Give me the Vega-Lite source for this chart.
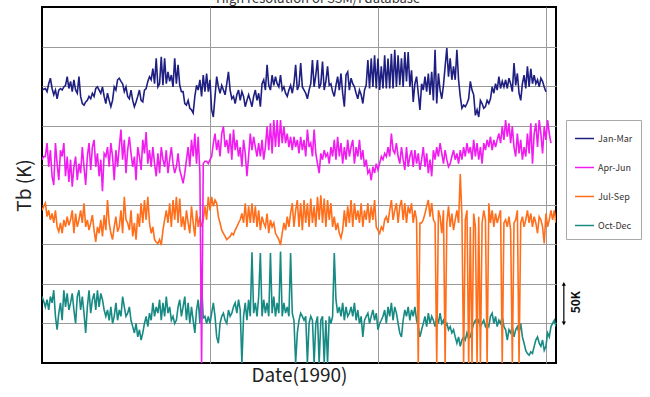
{
"$schema":"https://vega.github.io/schema/vega-lite/v6.json",
"width":514,"height":356,
"autosize":{"type":"none"},
"padding":{"left":42,"top":7,"right":94,"bottom":34},
"background":"#ffffff",
"title":{"text":"High resolution of SSM/I database","fontSize":13,"fontWeight":"normal","color":"#333","offset":1,"dx":19,"font":"Noto Sans CJK JP"},
"config":{"view":{"stroke":"#000","strokeWidth":2},
"axis":{"labels":false,"ticks":false,"domain":false,"gridColor":"#9a9a9a","gridWidth":1,"titleFont":"Noto Sans CJK JP","titleFontWeight":"normal","titleFontSize":19,"titleColor":"#222"}},
"layer":[
{"data":{"values":[
{"d":0,"A":345,"B":257,"C":193,"D":84},{"d":0.3,"A":346,"B":261,"C":198,"D":78},{"d":0.6,"A":347,"B":261,"C":202,"D":71},{"d":0.9,"A":343,"B":278,"C":185,"D":80},{"d":1.2,"A":353,"B":248,"C":193,"D":67},{"d":1.5,"A":360,"B":269,"C":181,"D":84},{"d":1.8,"A":347,"B":236,"C":189,"D":76},{"d":2.1,"A":339,"B":225,"C":177,"D":92},{"d":2.4,"A":345,"B":278,"C":193,"D":59},{"d":2.7,"A":334,"B":252,"C":172,"D":42},
{"d":3,"A":345,"B":231,"C":166,"D":63},{"d":3.3,"A":347,"B":269,"C":177,"D":76},{"d":3.6,"A":345,"B":261,"C":164,"D":54},{"d":3.9,"A":349,"B":278,"C":181,"D":92},{"d":4.2,"A":351,"B":236,"C":172,"D":71},{"d":4.5,"A":362,"B":261,"C":185,"D":88},{"d":4.8,"A":347,"B":229,"C":174,"D":67},{"d":5.1,"A":356,"B":257,"C":181,"D":76},{"d":5.4,"A":343,"B":223,"C":193,"D":88},{"d":5.7,"A":358,"B":248,"C":164,"D":67},
{"d":6,"A":345,"B":261,"C":189,"D":50},{"d":6.3,"A":341,"B":231,"C":172,"D":84},{"d":6.6,"A":362,"B":252,"C":181,"D":92},{"d":6.9,"A":337,"B":240,"C":193,"D":67},{"d":7.2,"A":328,"B":273,"C":177,"D":84},{"d":7.5,"A":326,"B":248,"C":202,"D":63},{"d":7.8,"A":330,"B":225,"C":172,"D":38},{"d":8.1,"A":332,"B":261,"C":181,"D":71},{"d":8.4,"A":337,"B":278,"C":168,"D":92},{"d":8.7,"A":334,"B":244,"C":177,"D":63},
{"d":9,"A":341,"B":273,"C":187,"D":80},{"d":9.3,"A":337,"B":282,"C":168,"D":88},{"d":9.6,"A":347,"B":248,"C":153,"D":67},{"d":9.9,"A":349,"B":265,"C":172,"D":92},{"d":10.2,"A":345,"B":236,"C":164,"D":71},{"d":10.5,"A":341,"B":257,"C":181,"D":88},{"d":10.8,"A":349,"B":217,"C":160,"D":80},{"d":11.1,"A":337,"B":265,"C":187,"D":67},{"d":11.4,"A":328,"B":261,"C":168,"D":59},{"d":11.7,"A":341,"B":273,"C":206,"D":67},
{"d":12,"A":332,"B":248,"C":177,"D":54},{"d":12.3,"A":324,"B":278,"C":164,"D":71},{"d":12.6,"A":332,"B":261,"C":156,"D":50},{"d":12.9,"A":349,"B":231,"C":172,"D":59},{"d":13.2,"A":345,"B":269,"C":185,"D":76},{"d":13.5,"A":358,"B":248,"C":166,"D":54},{"d":13.8,"A":360,"B":273,"C":172,"D":67},{"d":14.1,"A":356,"B":295,"C":193,"D":59},{"d":14.4,"A":353,"B":257,"C":164,"D":84},{"d":14.7,"A":343,"B":282,"C":210,"D":71},
{"d":15,"A":349,"B":240,"C":181,"D":59},{"d":15.3,"A":337,"B":269,"C":177,"D":63},{"d":15.6,"A":334,"B":286,"C":168,"D":71},{"d":15.9,"A":345,"B":265,"C":193,"D":54},{"d":16.2,"A":332,"B":248,"C":160,"D":46},{"d":16.5,"A":324,"B":261,"C":177,"D":38},{"d":16.8,"A":330,"B":231,"C":156,"D":50},{"d":17.1,"A":337,"B":273,"C":189,"D":33},{"d":17.4,"A":345,"B":261,"C":172,"D":42},{"d":17.7,"A":332,"B":244,"C":202,"D":29},
{"d":18,"A":330,"B":282,"C":177,"D":38},{"d":18.3,"A":345,"B":265,"C":206,"D":50},{"d":18.6,"A":347,"B":292,"C":181,"D":59},{"d":18.9,"A":356,"B":252,"C":210,"D":46},{"d":19.2,"A":362,"B":269,"C":177,"D":63},{"d":19.5,"A":358,"B":248,"C":164,"D":54},{"d":19.8,"A":372,"B":273,"C":172,"D":76},{"d":20.1,"A":353,"B":252,"C":156,"D":59},{"d":20.4,"A":385,"B":236,"C":153,"D":71},{"d":20.7,"A":349,"B":265,"C":151,"D":63},
{"d":21,"A":353,"B":240,"C":156,"D":80},{"d":21.3,"A":387,"B":273,"C":149,"D":54},{"d":21.6,"A":351,"B":257,"C":168,"D":76},{"d":21.9,"A":385,"B":248,"C":181,"D":59},{"d":22.2,"A":353,"B":269,"C":193,"D":84},{"d":22.5,"A":368,"B":240,"C":177,"D":63},{"d":22.8,"A":356,"B":257,"C":202,"D":71},{"d":23.1,"A":364,"B":273,"C":172,"D":54},{"d":23.4,"A":349,"B":252,"C":206,"D":59},{"d":23.7,"A":385,"B":240,"C":181,"D":50},
{"d":24,"A":353,"B":248,"C":210,"D":54},{"d":24.3,"A":377,"B":265,"C":177,"D":71},{"d":24.6,"A":351,"B":244,"C":208,"D":80},{"d":24.9,"A":343,"B":236,"C":172,"D":59},{"d":25.2,"A":343,"B":227,"C":185,"D":71},{"d":25.5,"A":328,"B":240,"C":168,"D":84},{"d":25.8,"A":326,"B":257,"C":193,"D":54},{"d":26.1,"A":332,"B":273,"C":177,"D":76},{"d":26.4,"A":322,"B":248,"C":164,"D":50},{"d":26.7,"A":320,"B":282,"C":198,"D":71},
{"d":27,"A":316,"B":261,"C":177,"D":54},{"d":27.3,"A":337,"B":290,"C":160,"D":38},{"d":27.6,"A":351,"B":252,"C":193,"D":67},{"d":27.9,"A":345,"B":286,"C":172,"D":80},{"d":28.2,"A":358,"B":240,"C":185,"D":50},{"d":28.5,"A":337,"B":0,"C":172,"D":101},{"d":28.8,"A":364,"B":252,"C":181,"D":57},{"d":29.1,"A":343,"B":255,"C":198,"D":59},{"d":29.4,"A":366,"B":255,"C":181,"D":50},{"d":29.7,"A":343,"B":252,"C":210,"D":59},
{"d":30,"A":358,"B":257,"C":193,"D":50},{"d":30.3,"A":320,"B":261,"C":210,"D":63},{"d":30.6,"A":311,"B":278,"C":198,"D":76},{"d":30.9,"A":337,"B":290,"C":206,"D":59},{"d":31.2,"A":362,"B":269,"C":202,"D":33},{"d":31.5,"A":349,"B":282,"C":185,"D":25},{"d":31.8,"A":341,"B":261,"C":177,"D":50},{"d":32.1,"A":351,"B":290,"C":168,"D":59},{"d":32.4,"A":345,"B":299,"C":164,"D":63},{"d":32.7,"A":339,"B":273,"C":160,"D":54},
{"d":33,"A":353,"B":282,"C":156,"D":50},{"d":33.3,"A":368,"B":265,"C":158,"D":67},{"d":33.6,"A":345,"B":290,"C":160,"D":59},{"d":33.9,"A":334,"B":257,"C":164,"D":63},{"d":34.2,"A":337,"B":295,"C":162,"D":71},{"d":34.5,"A":328,"B":269,"C":168,"D":76},{"d":34.8,"A":339,"B":282,"C":172,"D":63},{"d":35.1,"A":345,"B":261,"C":177,"D":80},{"d":35.4,"A":332,"B":273,"C":181,"D":67},{"d":35.7,"A":343,"B":248,"C":189,"D":0},
{"d":36,"A":337,"B":282,"C":177,"D":59},{"d":36.3,"A":324,"B":265,"C":202,"D":76},{"d":36.6,"A":332,"B":236,"C":172,"D":54},{"d":36.9,"A":339,"B":261,"C":198,"D":80},{"d":37.2,"A":332,"B":290,"C":177,"D":59},{"d":37.5,"A":324,"B":269,"C":202,"D":140},{"d":37.8,"A":337,"B":286,"C":177,"D":63},{"d":38.1,"A":345,"B":273,"C":198,"D":76},{"d":38.4,"A":332,"B":261,"C":172,"D":59},{"d":38.7,"A":341,"B":278,"C":193,"D":84},
{"d":39,"A":324,"B":261,"C":168,"D":139},{"d":39.3,"A":353,"B":282,"C":185,"D":59},{"d":39.6,"A":358,"B":257,"C":177,"D":80},{"d":39.9,"A":345,"B":273,"C":172,"D":63},{"d":40.2,"A":377,"B":299,"C":189,"D":76},{"d":40.5,"A":351,"B":269,"C":164,"D":59},{"d":40.8,"A":345,"B":303,"C":181,"D":139},{"d":41.1,"A":364,"B":265,"C":172,"D":63},{"d":41.4,"A":351,"B":307,"C":177,"D":84},{"d":41.7,"A":362,"B":273,"C":164,"D":59},
{"d":42,"A":353,"B":307,"C":160,"D":76},{"d":42.3,"A":349,"B":273,"C":156,"D":63},{"d":42.6,"A":364,"B":307,"C":149,"D":141},{"d":42.9,"A":345,"B":278,"C":164,"D":59},{"d":43.2,"A":349,"B":299,"C":177,"D":76},{"d":43.5,"A":341,"B":278,"C":168,"D":63},{"d":43.8,"A":337,"B":290,"C":185,"D":71},{"d":44.1,"A":345,"B":273,"C":172,"D":59},{"d":44.4,"A":351,"B":286,"C":189,"D":139},{"d":44.7,"A":341,"B":269,"C":202,"D":63},
{"d":45,"A":353,"B":286,"C":172,"D":54},{"d":45.3,"A":377,"B":273,"C":193,"D":0},{"d":45.6,"A":345,"B":282,"C":206,"D":38},{"d":45.9,"A":351,"B":265,"C":172,"D":54},{"d":46.2,"A":379,"B":286,"C":202,"D":63},{"d":46.5,"A":349,"B":269,"C":168,"D":59},{"d":46.8,"A":345,"B":282,"C":206,"D":54},{"d":47.1,"A":341,"B":261,"C":177,"D":59},{"d":47.4,"A":334,"B":295,"C":202,"D":0},{"d":47.7,"A":345,"B":273,"C":172,"D":50},
{"d":48,"A":353,"B":278,"C":208,"D":59},{"d":48.3,"A":383,"B":261,"C":177,"D":54},{"d":48.6,"A":349,"B":295,"C":198,"D":0},{"d":48.9,"A":364,"B":265,"C":172,"D":50},{"d":49.2,"A":383,"B":252,"C":210,"D":59},{"d":49.5,"A":347,"B":240,"C":181,"D":0},{"d":49.8,"A":353,"B":265,"C":212,"D":54},{"d":50.1,"A":381,"B":257,"C":177,"D":59},{"d":50.4,"A":345,"B":269,"C":208,"D":0},{"d":50.7,"A":356,"B":261,"C":172,"D":54},
{"d":51,"A":375,"B":265,"C":206,"D":0},{"d":51.3,"A":351,"B":252,"C":181,"D":59},{"d":51.6,"A":353,"B":273,"C":202,"D":50},{"d":51.9,"A":343,"B":261,"C":172,"D":59},{"d":52.2,"A":337,"B":282,"C":185,"D":139},{"d":52.5,"A":351,"B":257,"C":168,"D":80},{"d":52.8,"A":362,"B":286,"C":177,"D":63},{"d":53.1,"A":345,"B":261,"C":164,"D":71},{"d":53.4,"A":366,"B":278,"C":158,"D":59},{"d":53.7,"A":341,"B":252,"C":168,"D":76},
{"d":54,"A":324,"B":273,"C":193,"D":54},{"d":54.3,"A":364,"B":257,"C":172,"D":71},{"d":54.6,"A":368,"B":282,"C":198,"D":59},{"d":54.9,"A":345,"B":261,"C":177,"D":63},{"d":55.2,"A":360,"B":273,"C":206,"D":71},{"d":55.5,"A":353,"B":282,"C":172,"D":59},{"d":55.8,"A":349,"B":252,"C":202,"D":76},{"d":56.1,"A":341,"B":273,"C":181,"D":54},{"d":56.4,"A":334,"B":261,"C":193,"D":67},{"d":56.7,"A":345,"B":282,"C":177,"D":50},
{"d":57,"A":339,"B":257,"C":202,"D":59},{"d":57.3,"A":328,"B":269,"C":172,"D":33},{"d":57.6,"A":345,"B":248,"C":193,"D":54},{"d":57.9,"A":351,"B":257,"C":181,"D":59},{"d":58.2,"A":383,"B":240,"C":202,"D":63},{"d":58.5,"A":347,"B":244,"C":177,"D":50},{"d":58.8,"A":385,"B":231,"C":198,"D":59},{"d":59.1,"A":349,"B":248,"C":181,"D":67},{"d":59.4,"A":389,"B":240,"C":206,"D":54},{"d":59.7,"A":347,"B":252,"C":172,"D":63},
{"d":60,"A":385,"B":244,"C":168,"D":42},{"d":60.3,"A":345,"B":252,"C":164,"D":50},{"d":60.6,"A":375,"B":261,"C":172,"D":54},{"d":60.9,"A":347,"B":257,"C":168,"D":59},{"d":61.2,"A":389,"B":265,"C":181,"D":67},{"d":61.5,"A":347,"B":261,"C":185,"D":50},{"d":61.8,"A":385,"B":273,"C":177,"D":71},{"d":62.1,"A":347,"B":261,"C":193,"D":59},{"d":62.4,"A":391,"B":290,"C":206,"D":76},{"d":62.7,"A":347,"B":269,"C":181,"D":54},
{"d":63,"A":396,"B":265,"C":193,"D":71},{"d":63.3,"A":349,"B":278,"C":202,"D":63},{"d":63.6,"A":389,"B":261,"C":177,"D":50},{"d":63.9,"A":351,"B":252,"C":198,"D":38},{"d":64.2,"A":385,"B":273,"C":206,"D":33},{"d":64.5,"A":349,"B":257,"C":181,"D":54},{"d":64.8,"A":393,"B":244,"C":202,"D":67},{"d":65.1,"A":356,"B":273,"C":177,"D":59},{"d":65.4,"A":393,"B":248,"C":198,"D":71},{"d":65.7,"A":349,"B":261,"C":189,"D":54},
{"d":66,"A":370,"B":269,"C":202,"D":67},{"d":66.3,"A":330,"B":248,"C":177,"D":59},{"d":66.6,"A":353,"B":269,"C":193,"D":71},{"d":66.9,"A":362,"B":252,"C":181,"D":54},{"d":67.2,"A":341,"B":265,"C":0,"D":46},{"d":67.5,"A":320,"B":244,"C":177,"D":33},{"d":67.8,"A":353,"B":257,"C":177,"D":42},{"d":68.1,"A":345,"B":273,"C":181,"D":50},{"d":68.4,"A":362,"B":248,"C":189,"D":59},{"d":68.7,"A":343,"B":265,"C":198,"D":46},
{"d":69,"A":366,"B":240,"C":206,"D":63},{"d":69.3,"A":339,"B":257,"C":185,"D":50},{"d":69.6,"A":368,"B":236,"C":202,"D":59},{"d":69.9,"A":332,"B":269,"C":181,"D":54},{"d":70.2,"A":396,"B":257,"C":177,"D":46},{"d":70.5,"A":328,"B":273,"C":0,"D":59},{"d":70.8,"A":366,"B":261,"C":193,"D":50},{"d":71.1,"A":345,"B":278,"C":185,"D":63},{"d":71.4,"A":334,"B":265,"C":164,"D":50},{"d":71.7,"A":351,"B":252,"C":193,"D":54},
{"d":72,"A":375,"B":269,"C":0,"D":46},{"d":72.3,"A":398,"B":257,"C":177,"D":50},{"d":72.6,"A":362,"B":248,"C":198,"D":42},{"d":72.9,"A":385,"B":252,"C":172,"D":46},{"d":73.2,"A":358,"B":261,"C":189,"D":38},{"d":73.5,"A":375,"B":269,"C":168,"D":42},{"d":73.8,"A":358,"B":257,"C":181,"D":33},{"d":74.1,"A":396,"B":265,"C":193,"D":25},{"d":74.4,"A":358,"B":252,"C":177,"D":33},{"d":74.7,"A":337,"B":269,"C":239,"D":21},
{"d":75,"A":322,"B":257,"C":185,"D":29},{"d":75.3,"A":326,"B":273,"C":0,"D":33},{"d":75.6,"A":324,"B":261,"C":181,"D":29},{"d":75.9,"A":328,"B":278,"C":193,"D":38},{"d":76.2,"A":334,"B":265,"C":0,"D":31},{"d":76.5,"A":356,"B":273,"C":172,"D":33},{"d":76.8,"A":345,"B":257,"C":0,"D":42},{"d":77.1,"A":339,"B":282,"C":189,"D":50},{"d":77.4,"A":313,"B":261,"C":172,"D":54},{"d":77.7,"A":320,"B":278,"C":0,"D":50},
{"d":78,"A":311,"B":257,"C":185,"D":54},{"d":78.3,"A":332,"B":273,"C":0,"D":46},{"d":78.6,"A":328,"B":252,"C":177,"D":50},{"d":78.9,"A":322,"B":278,"C":193,"D":54},{"d":79.2,"A":324,"B":269,"C":181,"D":46},{"d":79.5,"A":332,"B":282,"C":0,"D":50},{"d":79.8,"A":328,"B":273,"C":202,"D":46},{"d":80.1,"A":334,"B":286,"C":177,"D":59},{"d":80.4,"A":349,"B":269,"C":193,"D":63},{"d":80.7,"A":341,"B":282,"C":172,"D":50},
{"d":81,"A":353,"B":273,"C":189,"D":59},{"d":81.3,"A":345,"B":282,"C":177,"D":46},{"d":81.6,"A":362,"B":290,"C":185,"D":54},{"d":81.9,"A":347,"B":278,"C":193,"D":50},{"d":82.2,"A":356,"B":299,"C":0,"D":59},{"d":82.5,"A":349,"B":282,"C":177,"D":46},{"d":82.8,"A":358,"B":307,"C":181,"D":42},{"d":83.1,"A":347,"B":286,"C":172,"D":29},{"d":83.4,"A":360,"B":303,"C":185,"D":42},{"d":83.7,"A":353,"B":278,"C":168,"D":38},
{"d":84,"A":343,"B":299,"C":0,"D":46},{"d":84.3,"A":379,"B":273,"C":177,"D":33},{"d":84.6,"A":351,"B":261,"C":181,"D":42},{"d":84.9,"A":366,"B":290,"C":193,"D":46},{"d":85.2,"A":341,"B":265,"C":0,"D":38},{"d":85.5,"A":332,"B":282,"C":177,"D":50},{"d":85.8,"A":353,"B":257,"C":185,"D":33},{"d":86.1,"A":364,"B":273,"C":172,"D":25},{"d":86.4,"A":347,"B":261,"C":181,"D":16},{"d":86.7,"A":375,"B":290,"C":193,"D":12},
{"d":87,"A":349,"B":265,"C":177,"D":10},{"d":87.3,"A":372,"B":303,"C":189,"D":14},{"d":87.6,"A":353,"B":252,"C":172,"D":12},{"d":87.9,"A":364,"B":290,"C":185,"D":21},{"d":88.2,"A":353,"B":303,"C":177,"D":29},{"d":88.5,"A":358,"B":273,"C":164,"D":33},{"d":88.8,"A":349,"B":307,"C":185,"D":25},{"d":89.1,"A":360,"B":290,"C":181,"D":21},{"d":89.4,"A":356,"B":265,"C":172,"D":29},{"d":89.7,"A":349,"B":299,"C":151,"D":16},
{"d":90,"A":343,"B":282,"C":189,"D":21},{"d":90.3,"A":null,"B":307,"C":172,"D":38},{"d":90.6,"A":null,"B":290,"C":181,"D":33},{"d":90.9,"A":null,"B":278,"C":193,"D":46},{"d":91.2,"A":null,"B":null,"C":181,"D":50},{"d":91.5,"A":null,"B":null,"C":193,"D":54},{"d":91.8,"A":null,"B":null,"C":177,"D":46}
]},
"transform":[
{"fold":["D","C","B","A"],"as":["key","tb"]},
{"lookup":"key","from":{"data":{"values":[{"key":"A","season":"Jan-Mar"},{"key":"B","season":"Apr-Jun"},{"key":"C","season":"Jul-Sep"},{"key":"D","season":"Oct-Dec"}]},"key":"key","fields":["season"]}}
],
"mark":{"type":"line","strokeWidth":1.6,"clip":true},
"encoding":{
"x":{"field":"d","type":"quantitative","scale":{"domain":[0,91.8],"nice":false,"zero":false},"axis":{"title":"Date(1990)","values":[30,60,90],"grid":true,"titlePadding":3}},
"y":{"field":"tb","type":"quantitative","scale":{"domain":[0,450],"nice":false},"axis":{"title":"Tb (K)","values":[50,100,150,200,250,300,350,400],"grid":true,"titlePadding":8}},
"color":{"field":"season","type":"nominal","scale":{"domain":["Jan-Mar","Apr-Jun","Jul-Sep","Oct-Dec"],"range":["#1f1f82","#f01cf0","#ff6e1a","#188a84"]},
"legend":{"orient":"none","legendX":524,"legendY":113,"title":null,"symbolType":"stroke","symbolSize":361,"symbolStrokeWidth":1.5,"labelFontSize":9,"labelColor":"#333","labelFont":"Noto Sans CJK JP","rowPadding":13,"padding":8,"strokeColor":"#aaaaaa","labelOffset":3}}
}},
{"data":{"values":[{"d":93.2,"tb":50,"tb2":100}]},
"mark":{"type":"rule","color":"#000","strokeWidth":1.2},
"encoding":{"x":{"field":"d","type":"quantitative"},"y":{"field":"tb","type":"quantitative"},"y2":{"field":"tb2"}}},
{"data":{"values":[{"d":93.2,"tb":100,"end":"top"},{"d":93.2,"tb":50,"end":"bottom"}]},
"mark":{"type":"point","filled":true,"color":"#000","size":18,"opacity":1},
"encoding":{"x":{"field":"d","type":"quantitative"},"y":{"field":"tb","type":"quantitative"},"shape":{"field":"end","type":"nominal","scale":{"domain":["top","bottom"],"range":["triangle-up","triangle-down"]},"legend":null}}},
{"data":{"values":[{"d":95.4,"tb":77,"label":"50K"}]},
"mark":{"type":"text","angle":270,"fontSize":12,"fontWeight":"bold","font":"Noto Sans CJK JP","color":"#111","align":"center","baseline":"middle"},
"encoding":{"x":{"field":"d","type":"quantitative"},"y":{"field":"tb","type":"quantitative"},"text":{"field":"label"}}}
]
}
